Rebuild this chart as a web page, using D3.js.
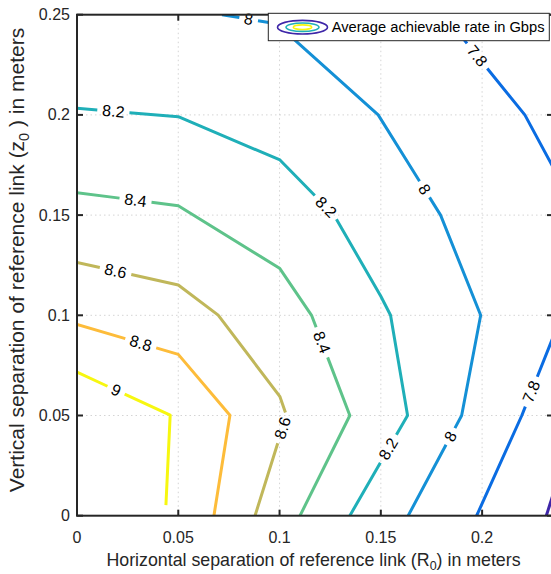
<!DOCTYPE html>
<html>
<head>
<meta charset="utf-8">
<script src="https://cdn.jsdelivr.net/npm/d3@7"></script>
<style>
body { margin: 0; background: #fff; }
svg { display: block; font-family: "Liberation Sans", Arial, Helvetica, sans-serif; }
</style>
</head>
<body>
<svg class="chart" width="551" height="574"></svg>
<script>
// contour levels of the average achievable rate (Gbps)
const levels = [7.6, 7.8, 8.0, 8.2, 8.4, 8.6, 8.8, 9.0];
const levelText = ["7.6", "7.8", "8", "8.2", "8.4", "8.6", "8.8", "9"];

// contour vertices, each [R0, z0] in meters
const line76 = [[0.2317, 0], [0.235, 0.0105]];
const line78top = [[0.1811, 0.25], [0.2211, 0.2], [0.235, 0.174]];
const line78low = [[0.235, 0.089], [0.2196, 0.05], [0.1973, 0]];
const line80 = [[0.0716, 0.25], [0.0985, 0.2455], [0.1487, 0.2], [0.1795, 0.15], [0.1993, 0.1], [0.1899, 0.05], [0.1635, 0]];
const line82 = [[0, 0.2033], [0.05, 0.1991], [0.1002, 0.1775], [0.1269, 0.15], [0.15, 0.1095], [0.1548, 0.1], [0.1632, 0.05], [0.1347, 0]];
const line84 = [[0, 0.1612], [0.05, 0.1547], [0.1, 0.1235], [0.1158, 0.1], [0.1347, 0.05], [0.1101, 0]];
const line86 = [[0, 0.1264], [0.05, 0.1151], [0.0697, 0.1001], [0.1002, 0.0594], [0.1034, 0.05], [0.0879, 0]];
const line88 = [[0, 0.0955], [0.05, 0.0805], [0.0755, 0.0501], [0.0676, 0]];
const line90 = [[0, 0.0716], [0.046, 0.0502], [0.0439, 0.0053]];

// where the inline labels sit: [level, R0, z0]
const labelSpots = [
  [9.0, 0.0188, 0.0617],
  [8.8, 0.0311, 0.0852],
  [8.6, 0.0188, 0.1211], [8.6, 0.1018, 0.0438],
  [8.4, 0.0286, 0.156], [8.4, 0.12, 0.0862],
  [8.2, 0.0178, 0.2009], [8.2, 0.1224, 0.1535], [8.2, 0.1545, 0.0328],
  [8.0, 0.0844, 0.2464], [8.0, 0.1709, 0.1624], [8.0, 0.1849, 0.0394],
  [7.8, 0.1964, 0.2284], [7.8, 0.2244, 0.0619]
];

const xTicks = [0, 0.05, 0.1, 0.15, 0.2];
const yTicks = [0, 0.05, 0.1, 0.15, 0.2, 0.25];
const xTickLabels = ["0", "0.05", "0.1", "0.15", "0.2"];
const yTickLabels = ["0", "0.05", "0.1", "0.15", "0.2", "0.25"];

const contours = [
  { level: 7.6, pts: line76 },
  { level: 7.8, pts: line78top },
  { level: 7.8, pts: line78low },
  { level: 8.0, pts: line80 },
  { level: 8.2, pts: line82 },
  { level: 8.4, pts: line84 },
  { level: 8.6, pts: line86 },
  { level: 8.8, pts: line88 },
  { level: 9.0, pts: line90 }
];

// parula-like colours per level
const COLORS = ["#3e26a8", "#0a6ce2", "#1490d6", "#1fafb8", "#5ec38a", "#c0b75a", "#fdbc3a", "#f7f710"];
const AXIS_COLOR = "#262626";
const LABEL_PAD = 5;

const LEFT = 77, RIGHT = 553, TOP = 14.7, BOTTOM = 515.7;

var chart = d3.select(".chart");

var x = d3.scaleLinear().domain([0, 0.235]).range([LEFT, RIGHT]);
var y = d3.scaleLinear().domain([0, 0.25]).range([BOTTOM, TOP]);
var color = d3.scaleOrdinal().domain(levels).range(COLORS);

chart.append("defs").append("clipPath").attr("id", "plotclip")
     .append("rect")
     .attr("x", LEFT).attr("y", TOP)
     .attr("width", RIGHT - LEFT).attr("height", BOTTOM - TOP);

// Grid
var grid = chart.append("g")
     .attr("stroke", "#d4d4d4")
     .attr("stroke-width", 1)
     .attr("stroke-dasharray", "1.5,3");
grid.selectAll("line.gx").data(xTicks.slice(1)).enter().append("line")
    .attr("x1", d => x(d)).attr("x2", d => x(d))
    .attr("y1", TOP).attr("y2", BOTTOM);
grid.selectAll("line.gy").data(yTicks.slice(1, -1)).enter().append("line")
    .attr("x1", LEFT).attr("x2", RIGHT)
    .attr("y1", d => y(d)).attr("y2", d => y(d));

// Contour lines
var lineGen = d3.line().x(d => x(d[0])).y(d => y(d[1]));
var lines = chart.append("g").attr("clip-path", "url(#plotclip)");
var paths = lines.selectAll("path").data(contours).enter().append("path")
     .attr("d", d => lineGen(d.pts))
     .attr("fill", "none")
     .attr("stroke", d => color(d.level))
     .attr("stroke-width", 3)
     .attr("stroke-linejoin", "round");

// Inline labels, cut a gap into the line for each one
var labelLayer = chart.append("g")
     .attr("font-size", "16px")
     .attr("fill", "#000");

paths.each(function(c) {
   var node = this;
   var total = node.getTotalLength();
   var gaps = [];
   labelSpots.filter(s => s[0] === c.level).forEach(function(s) {
      var sx = x(s[1]), sy = y(s[2]);
      var best = 0, bestD = Infinity;
      for (var L = 0; L <= total; L += 0.5) {
         var p = node.getPointAtLength(L);
         var dd = (p.x - sx) * (p.x - sx) + (p.y - sy) * (p.y - sy);
         if (dd < bestD) { bestD = dd; best = L; }
      }
      if (bestD > 400) return; // spot belongs to the other branch
      var p = node.getPointAtLength(best);
      var a = node.getPointAtLength(Math.max(0, best - 4));
      var b = node.getPointAtLength(Math.min(total, best + 4));
      var ang = Math.atan2(b.y - a.y, b.x - a.x) * 180 / Math.PI;
      if (ang > 90) ang -= 180;
      if (ang < -90) ang += 180;
      var t = labelLayer.append("text")
          .attr("text-anchor", "middle")
          .attr("dominant-baseline", "central")
          .attr("transform", "translate(" + p.x + "," + p.y + ") rotate(" + ang + ")")
          .text(levelText[levels.indexOf(c.level)]);
      var half = t.node().getComputedTextLength() / 2 + LABEL_PAD;
      gaps.push([best - half, best + half]);
   });
   if (gaps.length) {
      gaps.sort((g1, g2) => g1[0] - g2[0]);
      var arr = [], pos = 0;
      gaps.forEach(function(g) {
         arr.push(Math.max(0, g[0] - pos), g[1] - Math.max(pos, g[0]));
         pos = g[1];
      });
      arr.push(total - pos + 20, 0);
      d3.select(node).attr("stroke-dasharray", arr.join(","));
   }
});

// Axes frame
chart.append("rect")
     .attr("x", LEFT).attr("y", TOP)
     .attr("width", RIGHT - LEFT).attr("height", BOTTOM - TOP)
     .attr("fill", "none")
     .attr("stroke", AXIS_COLOR)
     .attr("stroke-width", 2);

var TICK = 6;
var ticks = chart.append("g").attr("stroke", AXIS_COLOR).attr("stroke-width", 2);
xTicks.forEach(function(v) {
   ticks.append("line").attr("x1", x(v)).attr("x2", x(v)).attr("y1", BOTTOM).attr("y2", BOTTOM - TICK);
   ticks.append("line").attr("x1", x(v)).attr("x2", x(v)).attr("y1", TOP).attr("y2", TOP + TICK);
});
yTicks.forEach(function(v) {
   ticks.append("line").attr("x1", LEFT).attr("x2", LEFT + TICK).attr("y1", y(v)).attr("y2", y(v));
   ticks.append("line").attr("x1", RIGHT).attr("x2", RIGHT - TICK).attr("y1", y(v)).attr("y2", y(v));
});

// Tick labels
chart.append("g").selectAll("text").data(xTicks).enter().append("text")
     .attr("x", d => x(d))
     .attr("y", BOTTOM + 22)
     .attr("dominant-baseline", "central")
     .attr("text-anchor", "middle")
     .attr("font-size", "16px")
     .attr("fill", AXIS_COLOR)
     .text((d, i) => xTickLabels[i]);
chart.append("g").selectAll("text").data(yTicks).enter().append("text")
     .attr("x", LEFT - 7)
     .attr("y", d => y(d))
     .attr("dominant-baseline", "central")
     .attr("text-anchor", "end")
     .attr("font-size", "16px")
     .attr("fill", AXIS_COLOR)
     .text((d, i) => yTickLabels[i]);

// Axis titles
var xt = chart.append("text")
     .attr("x", 313.5)
     .attr("y", 566)
     .attr("text-anchor", "middle")
     .attr("font-size", "17.8px")
     .attr("fill", AXIS_COLOR);
xt.append("tspan").text("Horizontal separation of reference link (R");
xt.append("tspan").attr("font-size", "12.5px").attr("dy", 3.5).text("0");
xt.append("tspan").attr("dy", -3.5).text(") in meters");

var yt = chart.append("text")
     .attr("transform", "translate(24,260) rotate(-90)")
     .attr("text-anchor", "middle")
     .attr("font-size", "21px")
     .attr("fill", AXIS_COLOR);
yt.append("tspan").text("Vertical separation of reference link (z");
yt.append("tspan").attr("font-size", "14.5px").attr("dy", 5).text("0");
yt.append("tspan").attr("dy", -5).text(" ) in meters");

// Legend
var legend = chart.append("g");
legend.append("rect")
      .attr("x", 268.3).attr("y", 13.3)
      .attr("width", 281).attr("height", 27.4)
      .attr("fill", "#fff")
      .attr("stroke", AXIS_COLOR)
      .attr("stroke-width", 1);
var icon = [[25, 6.8, 7.6], [16.5, 4.2, 8.2], [9.2, 2.3, 9.0]];
legend.selectAll("ellipse").data(icon).enter().append("ellipse")
      .attr("cx", 302.5).attr("cy", 27.2)
      .attr("rx", d => d[0]).attr("ry", d => d[1])
      .attr("fill", "none")
      .attr("stroke", d => color(d[2]))
      .attr("stroke-width", 1.6);
legend.append("text")
      .attr("x", 331.7).attr("y", 27.2)
      .attr("dominant-baseline", "central")
      .attr("font-size", "14.7px")
      .attr("fill", "#000")
      .text("Average achievable rate in Gbps");
</script>
</body>
</html>
